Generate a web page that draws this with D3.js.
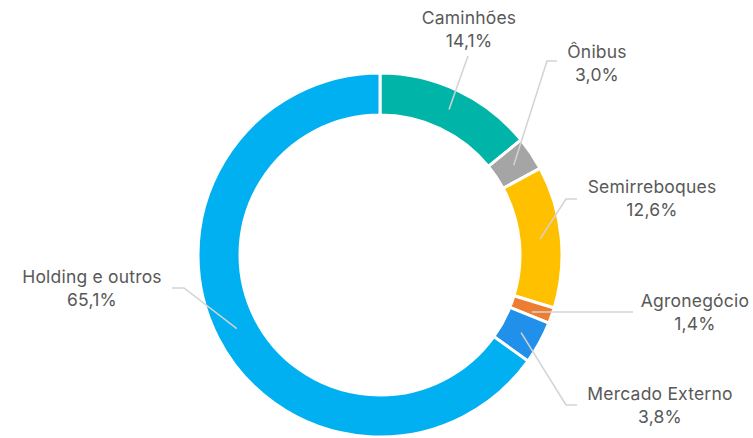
<!DOCTYPE html>
<html>
<head>
<meta charset="utf-8">
<script src="https://cdn.jsdelivr.net/npm/d3@7"></script>
<style>
  html, body { margin: 0; padding: 0; background: #fff; }
  svg { display: block; }
</style>
</head>
<body>
<svg id="chart" width="753" height="438"></svg>
<script>
const categories = ["Caminhões", "Ônibus", "Semirreboques", "Agronegócio", "Mercado Externo", "Holding e outros"];
const values = [14.1, 3.0, 12.6, 1.4, 3.8, 65.1];
const valueLabels = ["14,1%", "3,0%", "12,6%", "1,4%", "3,8%", "65,1%"];
const colors = ["#00B5A8", "#A5A5A5", "#FFC000", "#ED7D31", "#2090EA", "#00B0F0"];

// layout (label anchor = text centre x, first baseline y; leader line bends)
const labelAnchors = [
  {x: 469, y: 24, path: [[468, 56]]},
  {x: 597, y: 58, path: [[547, 61], [557, 61]]},
  {x: 652, y: 193, path: [[566, 199], [577, 199]]},
  {x: 695, y: 307, path: [[633, 312]], startY: 312},
  {x: 660, y: 400, path: [[566, 405], [577, 405]]},
  {x: 92, y: 283, path: [[184, 288], [172, 288]]}
];

const svg = d3.select("#chart");
const cx = 380, cy = 255, R = 182, r = 140;
const g = svg.append("g").attr("transform", `translate(${cx},${cy})`);

const data = categories.map((c, i) => ({name: c, value: values[i], label: valueLabels[i], color: colors[i], i}));
const pie = d3.pie().value(d => d.value).sort(null);
const arcs = pie(data);
const arc = d3.arc().innerRadius(r).outerRadius(R);
const mid = d3.arc().innerRadius(161).outerRadius(161);

g.selectAll("path.slice").data(arcs).join("path")
  .attr("class", "slice")
  .attr("d", arc)
  .attr("fill", d => d.data.color)
  .attr("stroke", "#fff")
  .attr("stroke-width", 3)
  .attr("stroke-linejoin", "miter");

// leader lines
const line = d3.line();
arcs.forEach((d, i) => {
  const la = labelAnchors[i];
  let c = mid.centroid(d);
  let start = [cx + c[0], cy + c[1]];
  if (la.startY !== undefined) start = [start[0], la.startY];
  const pts = [start].concat(la.path);
  svg.append("path")
    .attr("d", line(pts))
    .attr("fill", "none")
    .attr("stroke", "#D3D3D3")
    .attr("stroke-width", 1.5);
});

// labels
arcs.forEach((d, i) => {
  const la = labelAnchors[i];
  const t = svg.append("text")
    .attr("text-anchor", "middle")
    .attr("font-family", "Inter, 'Noto Sans', sans-serif")
    .attr("font-size", 17.5)
    .attr("font-weight", 400)
    .attr("letter-spacing", 0.2)
    .attr("fill", "#595959");
  t.append("tspan").attr("x", la.x).attr("y", la.y).text(d.data.name);
  t.append("tspan").attr("x", la.x).attr("y", la.y + 22.5).text(d.data.label);
});
</script>
</body>
</html>
